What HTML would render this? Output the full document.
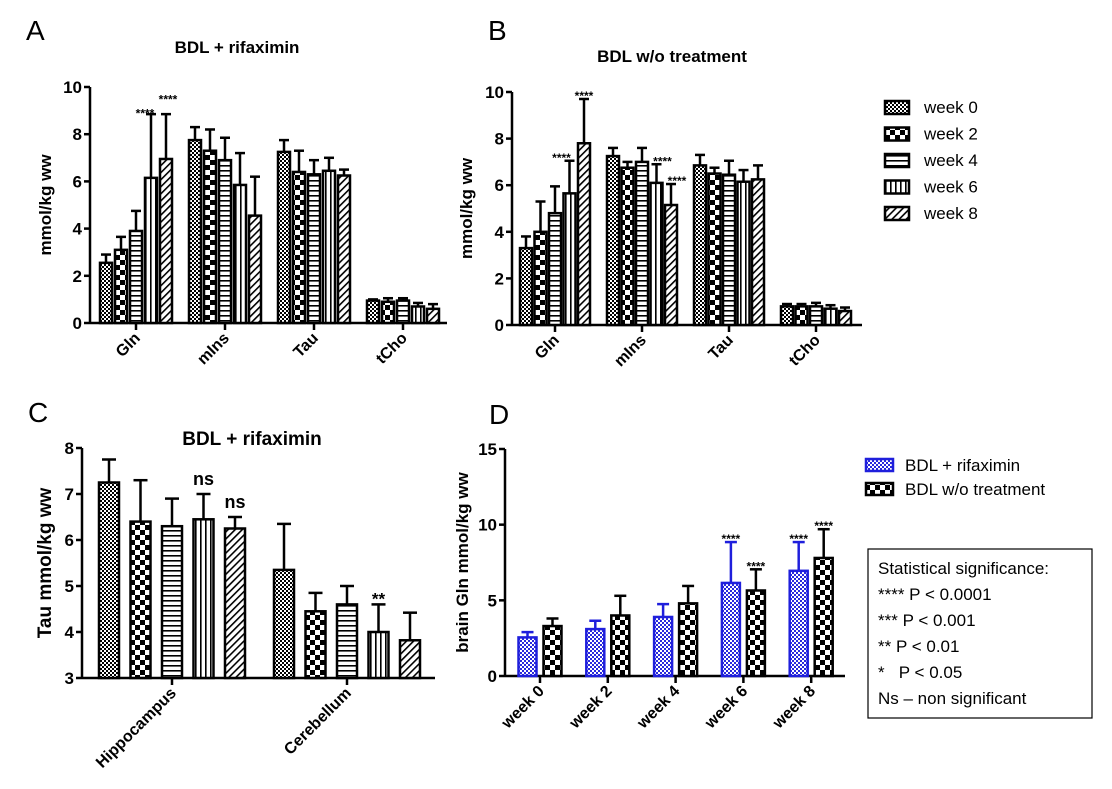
<!DOCTYPE html>
<html><head><meta charset="utf-8">
<style>
html,body{margin:0;padding:0;background:#fff;}
svg{display:block;font-family:"Liberation Sans",Arial,sans-serif;}
</style></head>
<body>
<svg id="fig" width="1112" height="789" viewBox="0 0 1112 789" xmlns="http://www.w3.org/2000/svg">
<defs>
  <pattern id="p0" width="4" height="4" patternUnits="userSpaceOnUse"><rect width="4" height="4" fill="#fff"/><rect width="2" height="2" fill="#000"/><rect x="2" y="2" width="2" height="2" fill="#000"/></pattern>
  <pattern id="p1" width="10" height="10" patternUnits="userSpaceOnUse"><rect width="10" height="10" fill="#fff"/><rect width="5" height="5" fill="#000"/><rect x="5" y="5" width="5" height="5" fill="#000"/></pattern>
  <pattern id="p2" width="4" height="5" patternUnits="userSpaceOnUse"><rect width="4" height="5" fill="#fff"/><rect y="0" width="4" height="1.6" fill="#000"/></pattern>
  <pattern id="p3" width="5" height="4" patternUnits="userSpaceOnUse"><rect width="5" height="4" fill="#fff"/><rect x="0" width="1.6" height="4" fill="#000"/></pattern>
  <pattern id="p4" width="5" height="5" patternUnits="userSpaceOnUse" patternTransform="rotate(45)"><rect width="5" height="5" fill="#fff"/><rect width="1.6" height="5" fill="#000"/></pattern>
  <pattern id="pb" width="4" height="4" patternUnits="userSpaceOnUse"><rect width="4" height="4" fill="#fff"/><rect width="2" height="2" fill="#2a2adc"/><rect x="2" y="2" width="2" height="2" fill="#2a2adc"/></pattern>
</defs>
<g id="root"></g>
</svg>
<script>
// ---------- data ----------
const groupsAB = ["Gln","mIns","Tau","tCho"];
const weeks = ["week 0","week 2","week 4","week 6","week 8"];
const aValues = [[2.55,3.1,3.9,6.15,6.95],[7.75,7.3,6.9,5.85,4.55],[7.25,6.4,6.3,6.45,6.25],[0.95,0.9,0.95,0.7,0.6]];
const aErrors = [[0.35,0.55,0.85,2.7,1.9],[0.55,0.9,0.95,1.35,1.65],[0.5,0.9,0.6,0.55,0.25],[0.05,0.15,0.1,0.15,0.2]];
const bValues = [[3.3,4.0,4.8,5.65,7.8],[7.25,6.75,7.0,6.1,5.15],[6.85,6.5,6.45,6.15,6.25],[0.8,0.8,0.8,0.7,0.6]];
const bErrors = [[0.5,1.3,1.15,1.4,1.9],[0.35,0.25,0.6,0.8,0.9],[0.45,0.25,0.6,0.5,0.6],[0.1,0.1,0.15,0.15,0.15]];
const abTicks = [0,2,4,6,8,10];
const groupsC = ["Hippocampus","Cerebellum"];
const cValues = [[7.25,6.4,6.3,6.45,6.25],[5.35,4.45,4.6,4.0,3.82]];
const cErrors = [[0.5,0.9,0.6,0.55,0.25],[1.0,0.4,0.4,0.6,0.6]];
const cTicks = [3,4,5,6,7,8];
const dSeries = ["BDL + rifaximin","BDL w/o treatment"];
const dRifValues = [2.55,3.1,3.9,6.15,6.95];
const dRifErrors = [0.35,0.55,0.85,2.7,1.9];
const dNoValues = [3.3,4.0,4.8,5.65,7.8];
const dNoErrors = [0.5,1.3,1.15,1.4,1.9];
const dTicks = [0,5,10,15];
// annotations: [group, bar, label, dx, dyValueAboveErr]
const aNotes = [[0,3,"****",-6,0.15],[0,4,"****",2,0.75]];
const bNotes = [[0,3,"****",-8,0.25],[0,4,"****",0,0.25],[1,3,"****",6,0.25],[1,4,"****",6,0.25]];
const cNotes = [[0,3,"ns",0,0.2],[0,4,"ns",0,0.2],[1,3,"**",0,0.15]];
const dNotes = [[3,0,"****",0,0.4],[3,1,"****",0,0.4],[4,0,"****",0,0.4],[4,1,"****",0,0.4]];

const NS="http://www.w3.org/2000/svg";
const root=document.getElementById('root');
function el(tag,attrs,parent,text){const e=document.createElementNS(NS,tag);for(const k in attrs)e.setAttribute(k,attrs[k]);if(text!==undefined)e.textContent=text;(parent||root).appendChild(e);return e;}
const pats=["url(#p0)","url(#p1)","url(#p2)","url(#p3)","url(#p4)"];

function chart(cfg){
  const g=el('g',{});
  
  
  const y=v=>cfg.y0+(v-cfg.ymin)/(cfg.ymax-cfg.ymin)*(cfg.y1-cfg.y0);
  const ax=el('line',{x1:cfg.x0,y1:cfg.y0+1,x2:cfg.x0,y2:cfg.y1,stroke:'#000','stroke-width':2.5},g);
  
  const bx=el('line',{x1:cfg.x0,y1:cfg.y0,x2:cfg.xEnd,y2:cfg.y0,stroke:'#000','stroke-width':2.5},g);
  
  cfg.ticks.forEach(t=>{
    el('line',{x1:cfg.x0-6,y1:y(t),x2:cfg.x0,y2:y(t),stroke:'#000','stroke-width':2.5},g);
    const tl=el('text',{x:cfg.x0-8,y:y(t)+6,'text-anchor':'end','font-size':17,'font-weight':'bold'},g,String(t));
    
  });
  const yt=el('text',{transform:`translate(${cfg.ytx},${(cfg.y0+cfg.y1)/2}) rotate(-90)`,'text-anchor':'middle','font-size':cfg.ytfs||17,'font-weight':'bold'},g,cfg.ytitle);
  
  cfg.groups.forEach((gn,gi)=>{
    const cx=cfg.gx0+gi*cfg.gstep;
    el('line',{x1:cx,y1:cfg.y0,x2:cx,y2:cfg.y0+7,stroke:'#000','stroke-width':2.5},g);
    const xl=el('text',{transform:`translate(${cx+5},${cfg.y0+16}) rotate(-45)`,'text-anchor':'end','font-size':cfg.xfs||16,'font-weight':'bold'},g,gn);
    
    const vals=cfg.values[gi],errs=cfg.errors[gi];const n=vals.length;
    vals.forEach((v,bi)=>{
      const bxc=cx+(bi-(n-1)/2)*cfg.pitch;
      const col=cfg.colors?cfg.colors[bi]:'#000';
      const top=y(v+errs[bi]);
      el('line',{x1:bxc,y1:y(v),x2:bxc,y2:top,stroke:col,'stroke-width':2.5},g);
      el('line',{x1:bxc-cfg.cap,y1:top,x2:bxc+cfg.cap,y2:top,stroke:col,'stroke-width':2.5},g);
      const r=el('rect',{x:bxc-cfg.bw/2,y:y(v),width:cfg.bw,height:cfg.y0-y(v),fill:cfg.fills[bi],stroke:col,'stroke-width':2.5},g);
      
      
    });
  });
  cfg.notes.forEach(nt=>{
    const [gi,bi,lab,dx,dv]=nt;const n=cfg.values[gi].length;
    const cx=cfg.gx0+gi*cfg.gstep+(bi-(n-1)/2)*cfg.pitch+dx;
    const tv=cfg.values[gi][bi]+cfg.errors[gi][bi]+dv;
    const star=lab.indexOf('*')>=0;
    const t=el('text',{x:cx,y:y(tv)+(star?7:0),'text-anchor':'middle','font-size':star?(cfg.sfs||13):18,'font-weight':'bold'},g,lab);
    
  });
  return g;
}
function txt(x,yy,s,size,name,opts){const t=el('text',Object.assign({x:x,y:yy,'font-size':size},opts||{}),root,s);return t;}

// Panel A
txt(26,40,"A",28,'panel-label-a');
txt(237,53,"BDL + rifaximin",17,'chart-title-a',{'text-anchor':'middle','font-weight':'bold'});
chart({name:'chart-a',x0:90,xEnd:447,y0:323,y1:87,ymin:0,ymax:10,ticks:abTicks,ytitle:"mmol/kg ww",ytx:51,groups:groupsAB,gx0:136,gstep:89,values:aValues,errors:aErrors,pitch:15,bw:12,cap:5,fills:pats,notes:aNotes,sfs:12});
// Panel B
txt(488,40,"B",28,'panel-label-b');
txt(672,62,"BDL w/o treatment",17,'chart-title-b',{'text-anchor':'middle','font-weight':'bold'});
chart({name:'chart-b',x0:512,xEnd:862,y0:325,y1:92,ymin:0,ymax:10,ticks:abTicks,ytitle:"mmol/kg ww",ytx:472,groups:groupsAB,gx0:555,gstep:87,values:bValues,errors:bErrors,pitch:14.5,bw:12,cap:5,fills:pats,notes:bNotes,sfs:12});
weeks.forEach((w,i)=>{
  const yy=107+i*26.5;
  const r=el('rect',{x:885,y:yy-6,width:24,height:13,fill:pats[i],stroke:'#000','stroke-width':2.5});
  
  txt(924,yy+6,w,17,'legend-entry');
});
// Panel C
txt(28,422,"C",28,'panel-label-c');
txt(252,445,"BDL + rifaximin",19,'chart-title-c',{'text-anchor':'middle','font-weight':'bold'});
chart({name:'chart-c',x0:82,xEnd:435,y0:678,y1:448,ymin:3,ymax:8,ticks:cTicks,ytitle:"Tau mmol/kg ww",ytx:51,ytfs:19,groups:groupsC,gx0:172,gstep:175,values:cValues,errors:cErrors,pitch:31.5,bw:20,cap:7,fills:pats,notes:cNotes,xfs:16,sfs:17});
// Panel D
txt(489,424,"D",28,'panel-label-d');
const dVals=dRifValues.map((v,i)=>[v,dNoValues[i]]);
const dErrs=dRifErrors.map((v,i)=>[v,dNoErrors[i]]);
chart({name:'chart-d',x0:505,xEnd:845,y0:676,y1:449,ymin:0,ymax:15,ticks:dTicks,ytitle:"brain Gln mmol/kg ww",ytx:468,groups:weeks,gx0:540,gstep:67.8,values:dVals,errors:dErrs,pitch:25,bw:18,cap:6,fills:["url(#pb)","url(#p1)"],colors:["#1f1fdc","#000"],notes:dNotes,sfs:12});
dSeries.forEach((s,i)=>{
  const yy=465+i*24;
  const r=el('rect',{x:866,y:yy-6,width:27,height:12,fill:i?"url(#p1)":"url(#pb)",stroke:i?'#000':'#1f1fdc','stroke-width':2.5});
  
  txt(905,yy+6,s,17,'legend-entry');
});
const box=el('rect',{x:868,y:549,width:224,height:169,fill:'#fff',stroke:'#000','stroke-width':1.2});

["Statistical significance:","**** P < 0.0001","*** P < 0.001","** P < 0.01","*   P < 0.05","Ns \u2013 non significant"].forEach((s,i)=>{
  const t=txt(878,574+i*26,s,17,'significance-line');t.setAttribute('xml:space','preserve');t.style.whiteSpace='pre';
});
</script>
</body></html>
